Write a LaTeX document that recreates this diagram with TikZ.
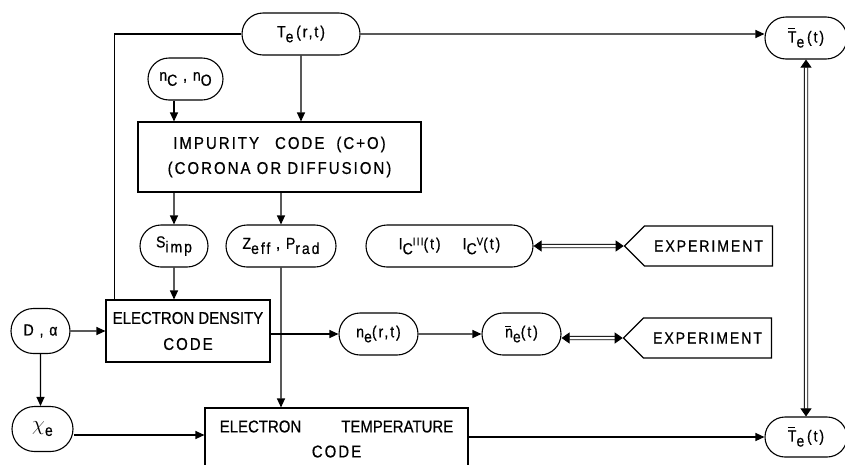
\documentclass[tikz,border=0pt]{standalone}
\usepackage{fontspec}
\usepackage{tikz}
\usetikzlibrary{arrows.meta,shapes.misc,shapes.symbols}

\newfontfamily\lettering[FakeStretch=0.88,FakeBold=0.6]{Liberation Sans}
\newfontfamily\spaced[FakeStretch=0.88,FakeBold=0.6,LetterSpace=12]{Liberation Sans}
\newcommand\lo[1]{\raisebox{-5pt}{#1}}
\newcommand\hi[1]{\raisebox{4pt}{\fontsize{11}{11}\selectfont #1}}
% mean value: a short bar set clear above the letter
\newcommand\barred[1]{\setbox0\hbox{#1}\rlap{\rule[\dimexpr\ht0+2pt\relax]{0.8\wd0}{1.1pt}}\box0}

\begin{document}
\begin{tikzpicture}[x=1pt,y=1pt,line width=1.1pt,>={Triangle[length=9pt,width=8pt]},
    pill/.style={rounded rectangle,draw,minimum height=42pt,inner sep=2pt,font=\spaced\fontsize{16}{18}\selectfont},
    codebox/.style={rectangle,draw,align=center,inner sep=2pt},
    expt/.style={signal,signal to=west,draw,minimum width=148pt,minimum height=40pt,font=\spaced\fontsize{16}{18}\selectfont},
    twoway/.style={{Triangle[length=8pt,width=11pt]}-{Triangle[length=8pt,width=11pt]},double,double distance=2.5pt,line width=0.9pt}]
    \useasboundingbox (0,0) rectangle (845,-464);

    % temperatures
    \node[pill,minimum width=122pt] (Te) at (301,-34) {T\lo{e}\,(r,t)};
    \node[pill,minimum width=86pt] (TeTop) [right of=Te,node distance=505pt,yshift=-4pt] {\barred{T}\lo{e}\,(t)};

    % impurity part
    \node[codebox,minimum width=283pt,minimum height=70pt,font=\spaced\fontsize{17}{25}\selectfont] (Imp) [below of=Te,node distance=123pt,xshift=-21.5pt]
        {IMPURITY\hspace{16pt}CODE\hspace{12pt}(C+O)\\(CORONA OR DIFFUSION)};
    \node[pill,minimum width=79pt] (nCO) [above of=Imp,node distance=78pt,xshift=-94pt] {n\lo{C} , n\lo{O}};
    \node[pill,minimum width=72pt] (Simp) [below of=Imp,node distance=89pt,xshift=-105.5pt] {S\lo{imp}};
    \node[pill,minimum width=114pt] (Zeff) [right of=Simp,node distance=107pt] {Z\lo{eff} , P\lo{rad}};
    \node[pill,minimum width=171pt] (IC) [right of=Zeff,node distance=168.5pt]
        {I\lo{C}\hi{III}(t)\hspace{22pt}I\lo{C}\hi{V}(t)};
    \node[expt] (Exp1) [right of=IC,node distance=259pt] {EXPERIMENT};

    % density part
    \node[codebox,minimum width=164pt,minimum height=62pt,font=\lettering\fontsize{17}{26}\selectfont] (EDC) [below of=Simp,node distance=85pt,xshift=14pt]
        {ELECTRON DENSITY\\{\spaced CODE}};
    \node[pill,minimum width=63pt,minimum height=45pt] (D) [left of=EDC,node distance=147.5pt] {D , α};
    \node[pill,minimum width=83pt] (ne) [right of=EDC,node distance=190.5pt,yshift=-3pt] {n\lo{e}(r,t)};
    \node[pill,minimum width=83pt] (nebar) [right of=ne,node distance=143pt] {\barred{n}\lo{e}(t)};
    \node[expt] (Exp2) [right of=nebar,node distance=186pt,yshift=-4pt] {EXPERIMENT};

    % temperature part
    \node[pill,minimum width=65pt,minimum height=45pt] (chi) [below of=D,node distance=98pt,xshift=2pt] {{\fontsize{20}{20}\selectfont$\chi$}\lo{e}};
    \node[codebox,minimum width=263pt,minimum height=62pt,font=\lettering\fontsize{17}{25}\selectfont] (ETC) [right of=chi,node distance=294pt,yshift=-10pt]
        {ELECTRON\hspace{40pt}TEMPERATURE\\{\spaced CODE}};
    \node[pill,minimum width=86pt,minimum height=40pt] (TeBot) [right of=ETC,node distance=469.5pt,yshift=2pt] {\barred{T}\lo{e}\,(t)};

    \draw (Te.west) -| ([xshift=9pt]EDC.north west);
    \path[->]
    (Te) edge (Te -| TeTop.west)
         edge (Te |- Imp.north)
    (Simp |- nCO.south) edge (Simp |- Imp.north)
    (Simp |- Imp.south) edge (Simp)
    (Zeff |- Imp.south) edge (Zeff)
    (Simp) edge (Simp |- EDC.north)
    (Zeff) edge (Zeff |- ETC.north)
    (D) edge (EDC)
        edge (D |- chi.north)
    ([yshift=-6pt]chi.east) edge ([yshift=-6pt]chi.east -| ETC.west)
    (ne -| EDC.east) edge (ne)
    (ne) edge (nebar)
    (ETC.east |- TeBot) edge (TeBot)
    (IC) edge[twoway] (Exp1)
    (nebar.east |- Exp2) edge[twoway] (Exp2)
    (TeTop) edge[twoway] (TeBot);
\end{tikzpicture}
\end{document}
